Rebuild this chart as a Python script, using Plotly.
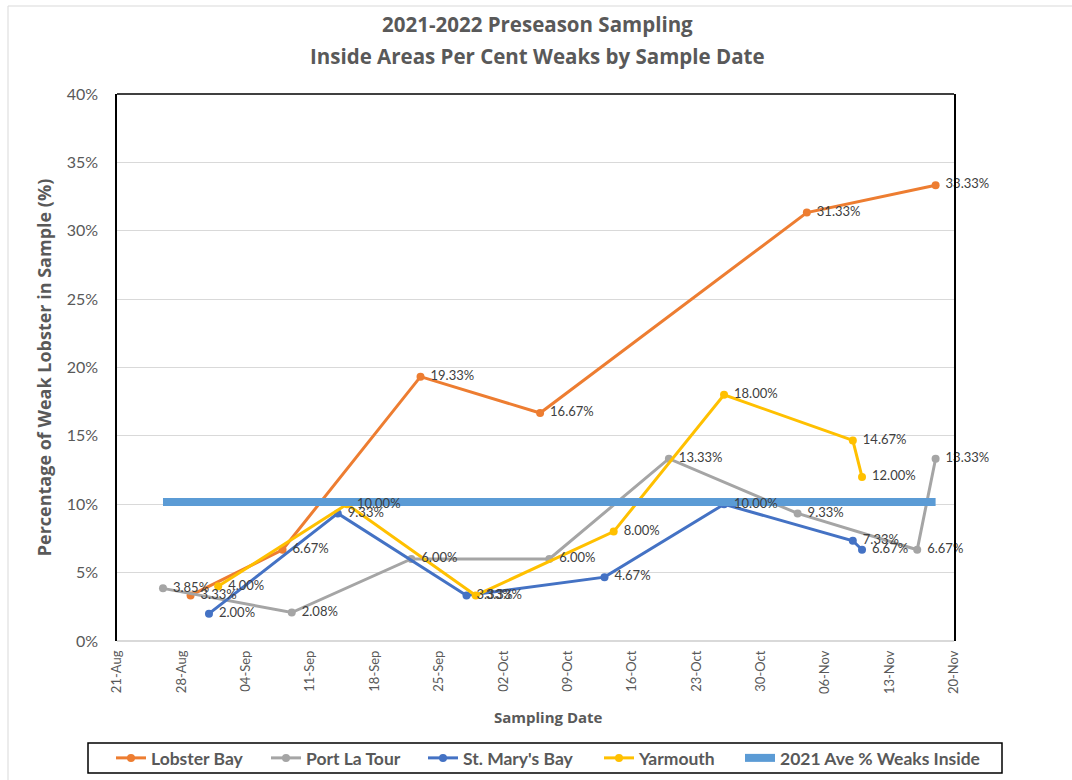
import plotly.graph_objects as go

# ---- data ----
lobster_dates = ["2021-08-29", "2021-09-08", "2021-09-23", "2021-10-06", "2021-11-04", "2021-11-18"]
lobster_vals = [0.0333, 0.0667, 0.1933, 0.1667, 0.3133, 0.3333]

port_dates = ["2021-08-26", "2021-09-09", "2021-09-22", "2021-10-07", "2021-10-20", "2021-11-03", "2021-11-16", "2021-11-18"]
port_vals = [0.0385, 0.0208, 0.0600, 0.0600, 0.1333, 0.0933, 0.0667, 0.1333]

stmary_dates = ["2021-08-31", "2021-09-14", "2021-09-28", "2021-10-13", "2021-10-26", "2021-11-09", "2021-11-10"]
stmary_vals = [0.0200, 0.0933, 0.0333, 0.0467, 0.1000, 0.0733, 0.0667]

yarmouth_dates = ["2021-09-01", "2021-09-15", "2021-09-29", "2021-10-14", "2021-10-26", "2021-11-09", "2021-11-10"]
yarmouth_vals = [0.0400, 0.1000, 0.0333, 0.0800, 0.1800, 0.1467, 0.1200]

avg_dates = ["2021-08-26", "2021-11-18"]
avg_vals = [0.1017, 0.1017]

series_names = ["Lobster Bay", "Port La Tour", "St. Mary's Bay", "Yarmouth", "2021 Ave % Weaks Inside"]
title_lines = ["2021-2022 Preseason Sampling", "Inside Areas Per Cent Weaks by Sample Date"]
x_title = "Sampling Date"
y_title = "Percentage of Weak Lobster in Sample (%)"

FONT = "Lato"
TFONT = "Open Sans"
GREY_TXT = "#595959"
LABEL_TXT = "#404040"
COLORS = ["#ED7D31", "#A5A5A5", "#4472C4", "#FFC000", "#5B9BD5"]

# plot area in pixels
L, R, T, B = 117, 954, 94, 641
PW, PH = R - L, B - T
def px(x):
    return (x - L) / PW
def py(y):
    return (B - y) / PH

# legend entry text starts (pixels)
legend_text_x = [151, 306, 463, 639, 780]

fig = go.Figure()

data = [(lobster_dates, lobster_vals), (port_dates, port_vals),
        (stmary_dates, stmary_vals), (yarmouth_dates, yarmouth_vals)]

legend_keys = ["legend", "legend2", "legend3", "legend4", "legend5"]

for i, (xs, ys) in enumerate(data):
    fig.add_trace(go.Scatter(
        x=xs, y=ys, name=series_names[i], mode="lines+markers",
        line=dict(color=COLORS[i], width=3),
        marker=dict(color=COLORS[i], size=8),
        legend=legend_keys[i],
    ))

fig.add_trace(go.Scatter(
    x=avg_dates, y=avg_vals, name=series_names[4], mode="lines",
    line=dict(color=COLORS[4], width=8), legend=legend_keys[4],
))

# data labels on top of everything
for i, (xs, ys) in enumerate(data):
    fig.add_trace(go.Scatter(
        x=xs, y=ys, mode="text", showlegend=False, hoverinfo="skip",
        texttemplate="\u00a0\u00a0\u00a0%{y:.2%}", textposition="middle right",
        textfont=dict(family=FONT, size=13, color=LABEL_TXT),
        cliponaxis=False,
    ))

layout_legends = {}
for key, tx in zip(legend_keys, legend_text_x):
    layout_legends[key] = dict(
        orientation="h", x=px(tx - 40), xanchor="left", y=py(758), yanchor="middle",
        borderwidth=0, bgcolor="rgba(0,0,0,0)",
        font=dict(family=FONT, size=17.5, color=GREY_TXT, weight="bold"),
    )

fig.update_layout(
    width=1072, height=780,
    margin=dict(l=L, r=1072 - R, t=T, b=780 - B, autoexpand=False),
    paper_bgcolor="white", plot_bgcolor="white",
    font=dict(family=FONT, color=GREY_TXT),
    showlegend=True,
    **layout_legends,
)

# title as two lines
for txt, yy in zip(title_lines, [24, 56]):
    fig.add_annotation(text="<b>" + txt + "</b>", xref="paper", yref="paper",
                       x=px(537), y=py(yy), showarrow=False, xanchor="center", yanchor="middle",
                       font=dict(family=TFONT, size=20.5, color=GREY_TXT))

# x axis title
fig.add_annotation(text="<b>" + x_title + "</b>", xref="paper", yref="paper",
                   x=px(548), y=py(717), showarrow=False, xanchor="center", yanchor="middle",
                   font=dict(family=TFONT, size=15, color=GREY_TXT))

fig.update_xaxes(
    type="date",
    range=["2021-08-21", "2021-11-20"],
    tick0="2021-08-21", dtick=7 * 24 * 3600 * 1000,
    tickformat="%d-%b", tickangle=-90,
    tickfont=dict(family=FONT, size=13, color=GREY_TXT),
    ticklabelstandoff=6,
    showgrid=False, showline=False, zeroline=False, ticks="",
)

fig.update_yaxes(
    range=[0, 0.40], dtick=0.05, tickformat=".0%",
    tickfont=dict(family=FONT, size=16, color=GREY_TXT),
    ticklabelstandoff=14,
    showgrid=True, gridcolor="#D9D9D9", gridwidth=1,
    zeroline=True, zerolinecolor="#D9D9D9", zerolinewidth=1.5,
    showline=True, linecolor="black", linewidth=1.5, mirror=True,
    ticks="", ticklen=0,
    title=dict(text="<b>" + y_title + "</b>",
               font=dict(family=TFONT, size=18, color=GREY_TXT), standoff=10),
)

# top border of plot area
fig.add_shape(type="line", xref="paper", yref="paper", x0=0, x1=1, y0=1, y1=1,
              line=dict(color="black", width=1.5))
# legend box
fig.add_shape(type="rect", xref="paper", yref="paper",
              x0=px(88), x1=px(1002), y0=py(773), y1=py(743),
              line=dict(color="black", width=1.5))
# outer chart border
fig.add_shape(type="rect", xref="paper", yref="paper",
              x0=px(8), x1=px(1100), y0=py(800), y1=py(6),
              line=dict(color="#D9D9D9", width=1), layer="below")

fig.write_html("out.html")
